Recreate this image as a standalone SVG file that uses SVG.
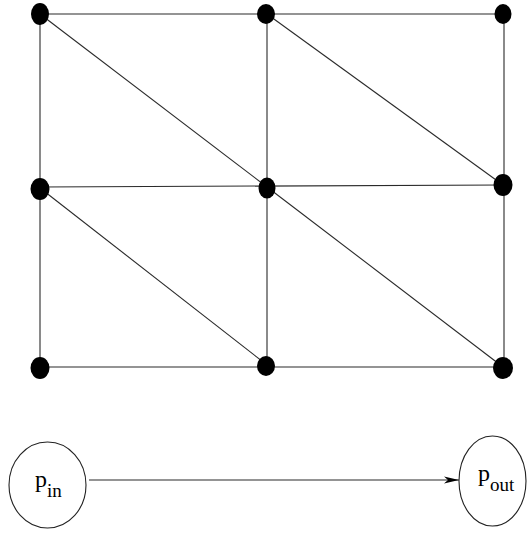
<svg xmlns="http://www.w3.org/2000/svg" width="529" height="533" viewBox="0 0 529 533">
<style>
.e{stroke:#2a2a2a;stroke-width:1.1;fill:none}
.n{fill:#000}
.c{fill:#fff;stroke:#222;stroke-width:1.1}
.t{font-family:"Liberation Serif",serif;font-size:24px;fill:#000}
.s{font-size:19px}
</style>
<defs>
<marker id="ah" markerWidth="15" markerHeight="8" refX="15" refY="4" orient="auto" markerUnits="userSpaceOnUse">
<path d="M0,0.5 L15,4 L0,7.5 L4,4 Z" fill="#000"/>
</marker>
</defs>
<rect width="529" height="533" fill="#fff"/>
<g id="connectors">
<line class="e" x1="40" y1="14" x2="503" y2="14"/>
<line class="e" x1="40" y1="187" x2="503" y2="185"/>
<line class="e" x1="40" y1="367" x2="503" y2="367"/>
<line class="e" x1="40" y1="14" x2="40" y2="367"/>
<line class="e" x1="267" y1="14" x2="267" y2="365"/>
<line class="e" x1="504" y1="14" x2="504" y2="367"/>
<line class="e" x1="40" y1="14" x2="267" y2="187"/>
<line class="e" x1="267" y1="14" x2="503" y2="185"/>
<line class="e" x1="40" y1="188" x2="267" y2="365"/>
<line class="e" x1="267" y1="187" x2="503" y2="367"/>
<line class="e" x1="89" y1="480" x2="459" y2="480" marker-end="url(#ah)"/>
</g>
<g id="n1"><ellipse class="n" cx="40" cy="14" rx="9" ry="11"/></g>
<g id="n2"><ellipse class="n" cx="266" cy="14" rx="9" ry="10"/></g>
<g id="n3"><ellipse class="n" cx="503" cy="14" rx="8.5" ry="10"/></g>
<g id="n4"><ellipse class="n" cx="40" cy="189" rx="9.5" ry="11"/></g>
<g id="n5"><ellipse class="n" cx="267" cy="188" rx="8.5" ry="10.5"/></g>
<g id="n6"><ellipse class="n" cx="503" cy="185" rx="9.5" ry="11"/></g>
<g id="n7"><ellipse class="n" cx="40" cy="368" rx="9.5" ry="11"/></g>
<g id="n8"><ellipse class="n" cx="266" cy="366" rx="9" ry="10"/></g>
<g id="n9"><ellipse class="n" cx="503" cy="368" rx="10" ry="11"/></g>
<g id="pin"><ellipse class="c" cx="47.5" cy="485" rx="38.5" ry="43"/><text class="t" x="35" y="487">p<tspan class="s" dy="10">in</tspan></text></g>
<g id="pout"><ellipse class="c" cx="492.5" cy="481" rx="33.5" ry="45"/><text class="t" x="478" y="481">p<tspan class="s" dy="10">out</tspan></text></g>
</svg>
